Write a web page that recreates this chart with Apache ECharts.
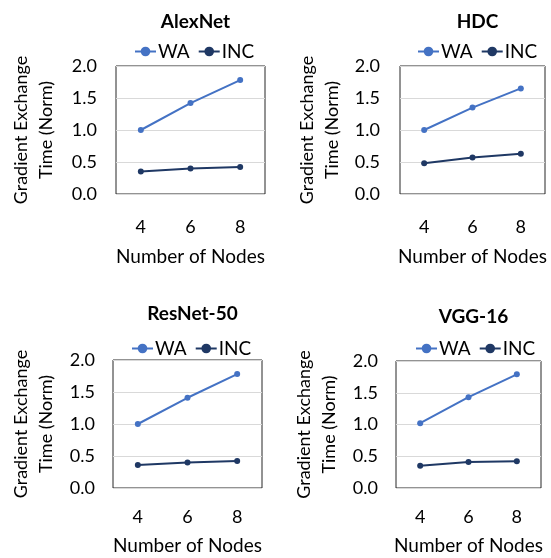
<!DOCTYPE html>
<html>
<head>
<meta charset="utf-8">
<script src="https://cdn.jsdelivr.net/npm/echarts@6/dist/echarts.min.js"></script>
<style>
  html, body { margin: 0; padding: 0; background: #fff; }
  #chart { width: 551px; height: 558px; }
</style>
</head>
<body>
<div id="chart"></div>
<script>
// data
var nodes = ['4', '6', '8'];
var panelNames = ['AlexNet', 'HDC', 'ResNet-50', 'VGG-16'];
var waAlexNet = [1.0, 1.42, 1.78];
var incAlexNet = [0.35, 0.40, 0.42];
var waHDC = [1.0, 1.35, 1.65];
var incHDC = [0.48, 0.57, 0.63];
var waResNet = [1.0, 1.41, 1.78];
var incResNet = [0.36, 0.40, 0.42];
var waVGG = [1.02, 1.43, 1.79];
var incVGG = [0.35, 0.41, 0.42];
var yTicks = [0, 0.5, 1.0, 1.5, 2.0];

var waValues = [waAlexNet, waHDC, waResNet, waVGG];
var incValues = [incAlexNet, incHDC, incResNet, incVGG];

var FONT = 'Lato';
var WA_COLOR = '#4472C4';
var INC_COLOR = '#1F3864';

// layout of the four panels (pixels)
var boxes = [
    { left: 116, top: 66, width: 149, height: 128, titleY: 7, legendX: 129, legendY: 37, labelGap: 24, nameGap: 53, yNameGap: 57, yLabelGap: 19 },
    { left: 400, top: 66, width: 145, height: 128, titleY: 7, legendX: 412, legendY: 37, labelGap: 24, nameGap: 53, yNameGap: 55, yLabelGap: 20 },
    { left: 113, top: 360, width: 149, height: 128, titleY: 299, legendX: 126, legendY: 334, labelGap: 20, nameGap: 48, yNameGap: 54, yLabelGap: 18 },
    { left: 396, top: 361, width: 145, height: 127, titleY: 302, legendX: 410, legendY: 334, labelGap: 20, nameGap: 48, yNameGap: 54, yLabelGap: 18 }
];

var chart = echarts.init(document.getElementById('chart'));

var titles = [], legends = [], grids = [], xAxes = [], yAxes = [], series = [];

boxes.forEach(function (b, i) {
    titles.push({
        text: panelNames[i],
        left: b.left + b.width / 2,
        top: b.titleY,
        textAlign: 'center',
        textStyle: { fontFamily: FONT, fontSize: 19, fontWeight: 'bold', color: '#000' }
    });
    legends.push({
        left: b.legendX,
        top: b.legendY,
        itemWidth: 21,
        itemHeight: 12,
        itemGap: 8,
        data: [
            { name: 'WA' + i, itemStyle: { color: WA_COLOR } },
            { name: 'INC' + i, itemStyle: { color: INC_COLOR } }
        ],
        formatter: function (n) { return n.replace(/\d$/, ''); },
        textStyle: { fontFamily: FONT, fontSize: 19, color: '#000', padding: [0, 0, 0, -3] }
    });
    grids.push({
        left: b.left, top: b.top, width: b.width, height: b.height,
        show: true, borderColor: '#262626', borderWidth: 1, backgroundColor: '#fff'
    });
    xAxes.push({
        type: 'category',
        gridIndex: i,
        data: nodes,
        name: 'Number of Nodes',
        nameLocation: 'middle',
        nameGap: b.nameGap,
        nameTextStyle: { fontFamily: FONT, fontSize: 19, color: '#000' },
        axisLine: { show: false },
        axisTick: { show: false },
        axisLabel: { margin: b.labelGap, fontFamily: FONT, fontSize: 18, color: '#000' }
    });
    yAxes.push({
        type: 'value',
        gridIndex: i,
        min: yTicks[0],
        max: yTicks[yTicks.length - 1],
        interval: 0.5,
        name: 'Gradient Exchange\nTime (Norm)',
        nameLocation: 'middle',
        nameGap: b.yNameGap,
        nameTextStyle: { fontFamily: FONT, fontSize: 18, color: '#000', lineHeight: 25 },
        axisLine: { show: false },
        axisTick: { show: false },
        splitLine: { lineStyle: { color: '#D9D9D9', width: 1 } },
        axisLabel: {
            margin: b.yLabelGap, fontFamily: FONT, fontSize: 18, color: '#000',
            formatter: function (v) { return v.toFixed(1); }
        }
    });
    series.push({
        name: 'WA' + i, type: 'line', xAxisIndex: i, yAxisIndex: i,
        data: waValues[i], symbol: 'circle', symbolSize: 6,
        lineStyle: { color: WA_COLOR, width: 2 }, itemStyle: { color: WA_COLOR },
        animation: false
    });
    series.push({
        name: 'INC' + i, type: 'line', xAxisIndex: i, yAxisIndex: i,
        data: incValues[i], symbol: 'circle', symbolSize: 6,
        lineStyle: { color: INC_COLOR, width: 2 }, itemStyle: { color: INC_COLOR },
        animation: false
    });
});

chart.setOption({
    backgroundColor: '#fff',
    animation: false,
    title: titles,
    legend: legends,
    grid: grids,
    xAxis: xAxes,
    yAxis: yAxes,
    series: series
});
</script>
</body>
</html>
